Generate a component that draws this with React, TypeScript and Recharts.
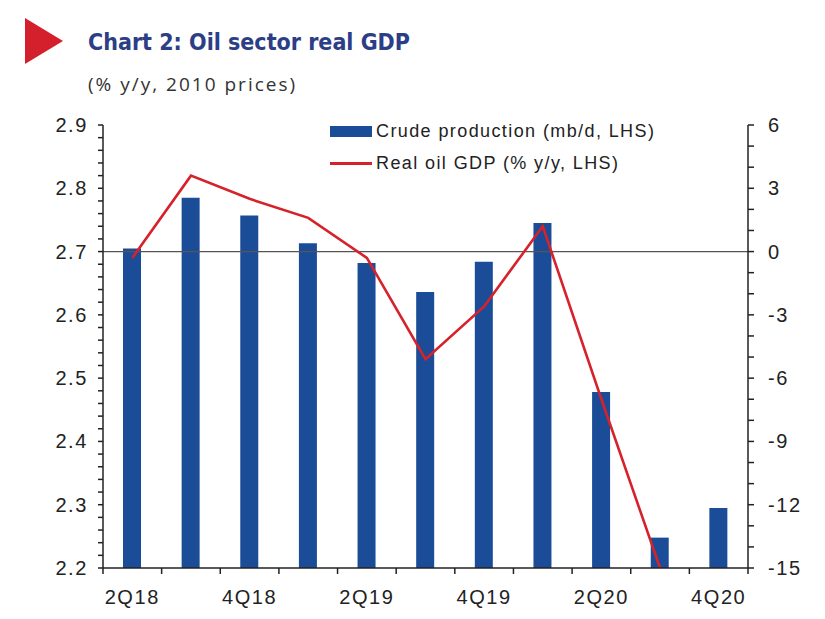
import { Bar, ComposedChart, Line, ReferenceLine, XAxis, YAxis } from 'recharts';

const quarters = ['2Q18', '3Q18', '4Q18', '1Q19', '2Q19', '3Q19', '4Q19', '1Q20', '2Q20', '3Q20', '4Q20'];
const crudeProduction = [2.705, 2.785, 2.757, 2.713, 2.682, 2.636, 2.684, 2.745, 2.478, 2.248, 2.295];
const realOilGdp = [-0.3, 3.6, 2.5, 1.6, -0.3, -5.1, -2.6, 1.2, -7.0, -15, null];
const shownQuarters = ['2Q18', '4Q18', '2Q19', '4Q19', '2Q20', '4Q20'];
const leftMajorTicks = [2.2, 2.3, 2.4, 2.5, 2.6, 2.7, 2.8, 2.9];
const rightMajorTicks = [-15, -12, -9, -6, -3, 0, 3, 6];

// minor ticks: every 0.02 on the left, every 1 on the right
const leftTicks = Array.from({ length: 36 }, (_, i) => Number((2.2 + i * 0.02).toFixed(2)));
const rightTicks = Array.from({ length: 22 }, (_, i) => -15 + i);

const data = quarters.map((q, i) => ({
  quarter: q,
  crude: crudeProduction[i],
  gdp: realOilGdp[i],
}));

const W = 825;
const H = 619;
const LEFT_W = 103;
const RIGHT_W = 77;
const BAND = (W - LEFT_W - RIGHT_W) / quarters.length;

const BLUE = '#1B4C98';
const RED = '#D6222B';
const INK = '#222';
const tickFont = {
  fontFamily: "'Liberation Sans', Arial, sans-serif",
  fontSize: 20,
  letterSpacing: 1.6,
  fill: INK,
};

function LeftTick({ x, y, payload }: any) {
  const major = leftMajorTicks.some((t) => Math.abs(t - payload.value) < 1e-6);
  if (!major) return null;
  return (
    <text x={x} y={y} dy={7} textAnchor="end" {...tickFont}>
      {payload.value.toFixed(1)}
    </text>
  );
}

function RightTick({ x, y, payload }: any) {
  if (!rightMajorTicks.includes(payload.value)) return null;
  return (
    <text x={x} y={y} dy={7} textAnchor="start" {...tickFont}>
      {payload.value}
    </text>
  );
}

function QuarterTick({ x, y, payload }: any) {
  const last = payload.index === quarters.length - 1;
  return (
    <g>
      <line x1={x - BAND / 2} x2={x - BAND / 2} y1={y} y2={y + 6} stroke={INK} strokeWidth={1.5} />
      {last && <line x1={x + BAND / 2} x2={x + BAND / 2} y1={y} y2={y + 6} stroke={INK} strokeWidth={1.5} />}
      {shownQuarters.includes(payload.value) && (
        <text x={x} y={y} dy={36} textAnchor="middle" {...tickFont}>
          {payload.value}
        </text>
      )}
    </g>
  );
}

function ChartLegend() {
  const txt = {
    fontFamily: "'Liberation Sans', Arial, sans-serif",
    fontSize: 18,
    letterSpacing: 1.4,
    color: INK,
  };
  return (
    <div style={{ position: 'absolute', left: 330, top: 115, lineHeight: '32px' }}>
      <div style={{ display: 'flex', alignItems: 'center' }}>
        <span style={{ width: 42, height: 11, background: BLUE, marginRight: 4 }} />
        <span style={txt}>Crude production (mb/d, LHS)</span>
      </div>
      <div style={{ display: 'flex', alignItems: 'center' }}>
        <span style={{ width: 42, height: 3, background: RED, marginRight: 4 }} />
        <span style={txt}>Real oil GDP (% y/y, LHS)</span>
      </div>
    </div>
  );
}

export default function App() {
  return (
    <div style={{ position: 'absolute', left: 0, top: 0, width: W, height: H, background: '#fff' }}>
      <svg width={70} height={80} style={{ position: 'absolute', left: 0, top: 0 }}>
        <polygon points="25,18 63,41 25,64" fill="#D4202C" />
      </svg>
      <div
        style={{
          position: 'absolute',
          left: 88,
          top: 29,
          fontFamily: "'Liberation Sans Narrow', 'DejaVu Sans Condensed', sans-serif",
          fontWeight: 700,
          fontSize: 23,
          color: '#2B3E86',
          whiteSpace: 'nowrap',
        }}
      >
        Chart 2: Oil sector real GDP
      </div>
      <div
        style={{
          position: 'absolute',
          left: 88,
          top: 71,
          fontFamily: "'Open Sans', sans-serif",
          fontSize: 19,
          letterSpacing: 2,
          color: '#333',
          whiteSpace: 'nowrap',
        }}
      >
        (% y/y, 2010 prices)
      </div>
      <ComposedChart
        width={W}
        height={H}
        data={data}
        margin={{ top: 125, right: 0, bottom: 11, left: 0 }}
        barCategoryGap={0}
      >
        <XAxis
          dataKey="quarter"
          interval={0}
          height={40}
          tickSize={0}
          tickMargin={0}
          tickLine={false}
          axisLine={{ stroke: INK, strokeWidth: 1.5 }}
          tick={<QuarterTick />}
        />
        <YAxis
          yAxisId="left"
          width={LEFT_W}
          domain={[2.2, 2.9]}
          ticks={leftTicks}
          interval={0}
          allowDataOverflow
          tickSize={5}
          tickMargin={10}
          axisLine={{ stroke: INK, strokeWidth: 1.5 }}
          tickLine={{ stroke: INK, strokeWidth: 1.5 }}
          tick={<LeftTick />}
        />
        <YAxis
          yAxisId="right"
          orientation="right"
          width={RIGHT_W}
          domain={[-15, 6]}
          ticks={rightTicks}
          interval={0}
          allowDataOverflow
          tickSize={6}
          tickMargin={14}
          axisLine={{ stroke: INK, strokeWidth: 1.5 }}
          tickLine={{ stroke: INK, strokeWidth: 1.5 }}
          tick={<RightTick />}
        />
        <ReferenceLine yAxisId="right" y={0} stroke="#555" strokeWidth={1.3} />
        <Bar
          yAxisId="left"
          dataKey="crude"
          name="Crude production (mb/d, LHS)"
          fill={BLUE}
          barSize={18}
          isAnimationActive={false}
        />
        <Line
          yAxisId="right"
          dataKey="gdp"
          name="Real oil GDP (% y/y, LHS)"
          type="linear"
          stroke={RED}
          strokeWidth={2.6}
          dot={false}
          isAnimationActive={false}
        />
      </ComposedChart>
      <ChartLegend />
    </div>
  );
}
